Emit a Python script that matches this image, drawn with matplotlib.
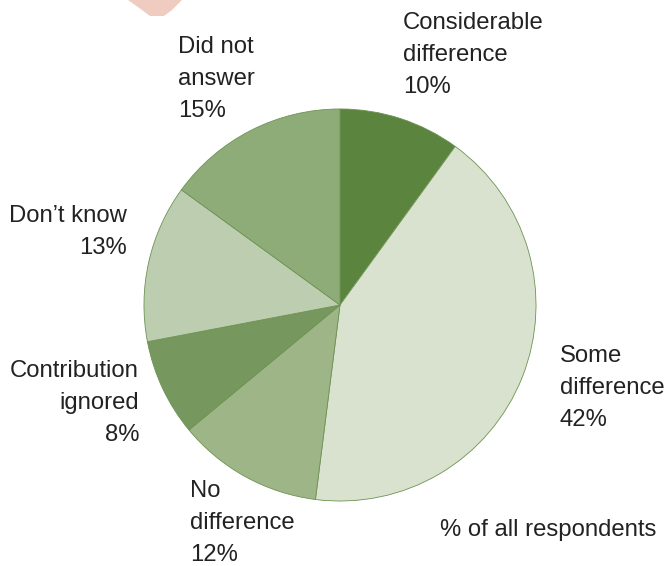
import matplotlib.pyplot as plt
from matplotlib.patches import Polygon

plt.rcParams['font.family'] = ['Liberation Sans', 'DejaVu Sans']

labels = ["Considerable\ndifference\n10%", "Some\ndifference\n42%", "No\ndifference\n12%",
          "Contribution\nignored\n8%", "Don\u2019t know\n13%", "Did not\nanswer\n15%"]
values = [10, 42, 12, 8, 13, 15]
colors = ["#5b843f", "#d8e2cf", "#9db587", "#76975e", "#bccdb0", "#8eac78"]

W, H = 666, 566
fig = plt.figure(figsize=(W / 100, H / 100), dpi=100)

# pinkish corner shape at the top
fig.patches.append(Polygon([(128 / W, 1.0), (182 / W, 1.0), (172 / W, 1 - 10 / H),
                            (164 / W, 1 - 16 / H), (150 / W, 1 - 16 / H), (142 / W, 1 - 10 / H)],
                           closed=True, transform=fig.transFigure, facecolor="#efcbc0",
                           edgecolor="none"))

cx, cy, r = 340, 305, 197
ax = fig.add_axes([(cx - r) / W, (H - cy - r) / H, 2 * r / W, 2 * r / H])
ax.pie(values, colors=colors, startangle=90, counterclock=False,
       wedgeprops=dict(edgecolor="#6e9352", linewidth=0.6))
ax.set_xlim(-1.005, 1.005)
ax.set_ylim(-1.005, 1.005)
ax.set_aspect("equal")
ax.axis("off")

# label positions (pixels, top of text) and alignment
pos = [(403, 12, "left"), (560, 345, "left"), (190, 480, "left"),
       (139, 360, "right"), (127, 205, "right"), (178, 36, "left")]
for lab, (px, py, ha) in zip(labels, pos):
    fig.text(px / W, 1 - py / H, lab, ha=ha, va="top", fontsize=17.2,
             linespacing=1.6, color="#222222", multialignment=ha)

fig.text(440 / W, 1 - 530 / H, "% of all respondents", ha="left", va="center",
         fontsize=17.2, color="#222222")

fig.savefig("out.png", dpi=100)
